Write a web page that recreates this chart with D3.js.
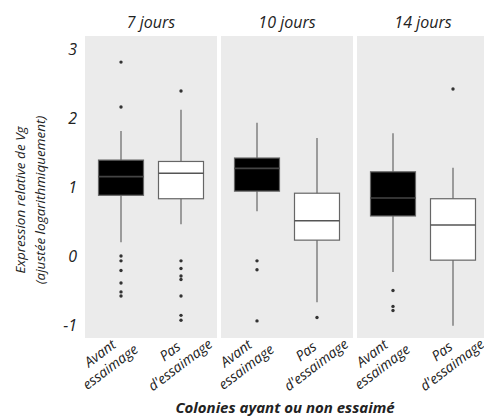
<!DOCTYPE html>
<html><head><meta charset="utf-8">
<script src="https://cdn.jsdelivr.net/npm/d3@7"></script>
<style>body{margin:0;background:#fff}svg{display:block}text{font-family:"Open Sans",sans-serif;font-style:italic;fill:#222}</style>
</head><body>
<script>
const facets = ["7 jours", "10 jours", "14 jours"];
const groups = ["Avant\nessaimage", "Pas\nd'essaimage"];
const yTicks = [-1, 0, 1, 2, 3];
// per facet, per group: [whiskerLow, q1, median, q3, whiskerHigh]
const stats7 = [[0.20, 0.88, 1.15, 1.39, 1.81], [0.46, 0.83, 1.20, 1.37, 2.12]];
const stats10 = [[0.65, 0.94, 1.27, 1.42, 1.93], [-0.67, 0.23, 0.51, 0.91, 1.71]];
const stats14 = [[-0.23, 0.58, 0.84, 1.22, 1.78], [-1.01, -0.06, 0.45, 0.83, 1.28]];
const outliers7 = [[2.81, 2.16, 0.0, -0.07, -0.21, -0.39, -0.52, -0.58], [2.39, -0.07, -0.18, -0.29, -0.34, -0.58, -0.86, -0.93]];
const outliers10 = [[-0.07, -0.20, -0.94], [-0.89]];
const outliers14 = [[-0.50, -0.73, -0.79], [2.42]];
const yTitle = ["Expression relative de Vg", "(ajustée logarithmiquement)"];
const xTitle = "Colonies ayant ou non essaimé";

const stats = [stats7, stats10, stats14];
const outs = [outliers7, outliers10, outliers14];
const fills = ["#000000", "#ffffff"];

const W = 484, H = 418;
const svg = d3.select("body").append("svg").attr("width", W).attr("height", H);
const pTop = 36, pBottom = 338, pLeft = 85, panelW = 132, gap = 4;

const y = d3.scaleLinear().domain([-1.188, 3.188]).range([pBottom, pTop]);
const fx = d3.scaleBand().domain(facets).range([pLeft, pLeft + 3 * panelW + 2 * gap]).paddingInner(gap / (panelW + gap)).paddingOuter(0);
const xIn = d3.scalePoint().domain(groups).range([0, fx.bandwidth()]).padding(0.6);
const boxW = xIn.step() * 0.75;

const yAxis = d3.axisLeft(y).tickValues(yTicks).tickSize(0).tickPadding(8).tickFormat(d => String(d));
const ga = svg.append("g").attr("transform", `translate(${pLeft},0)`).call(yAxis);
ga.select(".domain").remove();
ga.selectAll("text").attr("font-size", 16).style("font-family", '"Open Sans",sans-serif').style("font-style", "italic").attr("fill", "#222");

const ang = -37 * Math.PI / 180, ca = Math.cos(ang), sa = Math.sin(ang);
const labelLayer = svg.append("g");

facets.forEach((f, i) => {
  const px = fx(f);
  const g = svg.append("g").attr("transform", `translate(${px},0)`);
  g.append("rect").attr("x", 0).attr("y", pTop).attr("width", fx.bandwidth()).attr("height", pBottom - pTop).attr("fill", "#ebebeb");
  g.append("text").attr("x", fx.bandwidth() / 2).attr("y", 28).attr("text-anchor", "middle").attr("font-size", 16).text(f);
  groups.forEach((grp, j) => {
    const s = stats[i][j];
    const cx = xIn(grp);
    g.append("line").attr("x1", cx).attr("x2", cx).attr("y1", y(s[0])).attr("y2", y(s[4])).attr("stroke", "#666").attr("stroke-width", 1.2);
    g.append("rect").attr("x", cx - boxW / 2).attr("width", boxW).attr("y", y(s[3])).attr("height", y(s[1]) - y(s[3]))
      .attr("fill", fills[j]).attr("stroke", "#666").attr("stroke-width", 1.2);
    g.append("line").attr("x1", cx - boxW / 2).attr("x2", cx + boxW / 2).attr("y1", y(s[2])).attr("y2", y(s[2]))
      .attr("stroke", j === 0 ? "#444" : "#555").attr("stroke-width", 1.6);
    g.selectAll(null).data(outs[i][j]).enter().append("circle").attr("cx", cx).attr("cy", d => y(d)).attr("r", 1.7).attr("fill", "#333");
    const lines = grp.split("\n");
    const off = j === 0 ? [-16, 22] : [-6, 20];
    const tx = px + cx + off[0], ty = pBottom + off[1];
    lines.forEach((l, k) => labelLayer.append("text")
      .attr("transform", `matrix(${ca},${sa},${-sa},${ca},${tx},${ty})`)
      .attr("x", 0).attr("y", (k - 0.5) * 17 + 5)
      .attr("text-anchor", "middle").attr("font-size", 14).text(l));
  });
});
labelLayer.raise();

const yt = svg.append("g").attr("transform", "translate(0,200) rotate(-90)");
yTitle.forEach((l, k) => {
  yt.append("text").attr("x", 0).attr("y", 25 + k * 20).attr("text-anchor", "middle").attr("font-size", 13.5).text(l);
});

svg.append("text").attr("x", 285).attr("y", 413).attr("text-anchor", "middle").attr("font-size", 15).attr("font-weight", "bold").text(xTitle);
</script>
</body></html>
